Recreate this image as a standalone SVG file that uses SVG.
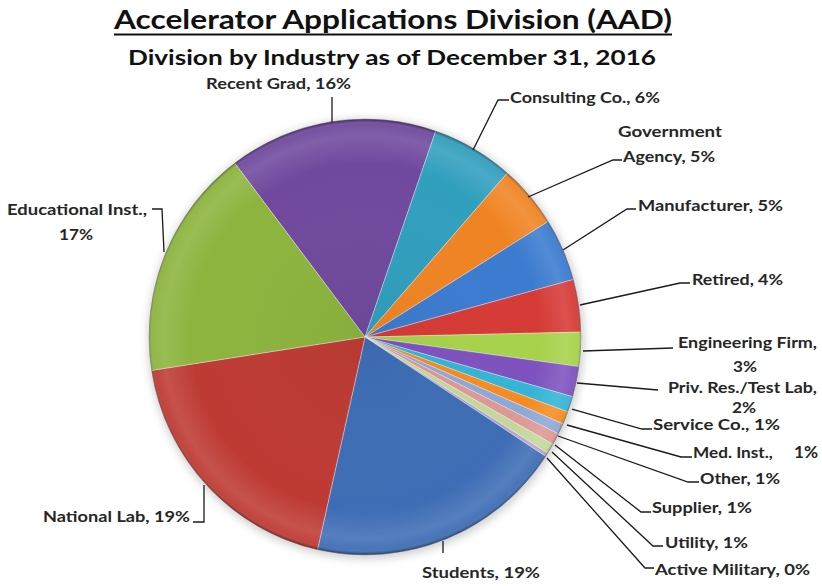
<svg xmlns="http://www.w3.org/2000/svg" width="822" height="586" viewBox="0 0 822 586">
<style>
.t{font-family:Lato,"Liberation Sans",Arial,sans-serif;font-weight:bold;fill:#111}
.lbl{font-family:Lato,"Liberation Sans",Arial,sans-serif;font-weight:bold;font-size:15px;fill:#262626}
.sl{stroke:#ffffff;stroke-opacity:0.45;stroke-width:0.8}
.ld{fill:none;stroke:#1a1a1a;stroke-width:1.3}
</style>
<defs>
<radialGradient id="shade" cx="365" cy="337" r="217" gradientUnits="userSpaceOnUse">
<stop offset="0" stop-color="#000" stop-opacity="0.04"/>
<stop offset="0.8" stop-color="#fff" stop-opacity="0"/>
<stop offset="0.93" stop-color="#fff" stop-opacity="0.12"/>
<stop offset="0.98" stop-color="#fff" stop-opacity="0.05"/>
<stop offset="1" stop-color="#000" stop-opacity="0.3"/>
</radialGradient>
<filter id="blur" x="-20%" y="-20%" width="140%" height="140%">
<feGaussianBlur stdDeviation="4"/>
</filter>
</defs>
<rect width="822" height="586" fill="#ffffff"/>
<g id="title">
<text class="t" x="114" y="29" font-size="27" textLength="558" lengthAdjust="spacingAndGlyphs">Accelerator Applications Division (AAD)</text>
<line x1="114" y1="34.5" x2="672" y2="34.5" stroke="#111" stroke-width="2"/>
<text class="t" x="128" y="65" font-size="20.5" textLength="528" lengthAdjust="spacingAndGlyphs">Division by Industry as of December 31, 2016</text>
</g>
<ellipse cx="366" cy="339" rx="218" ry="220" fill="#777" opacity="0.35" filter="url(#blur)"/>
<g id="slice-recent-grad"><path class="sl" fill="#70499E" d="M365 337 L234.7 163.1 A216 218 0 0 1 435.7 131.0 Z"/>
<text class="lbl" x="206" y="89" textLength="145" lengthAdjust="spacingAndGlyphs">Recent Grad, 16%</text></g>
<g id="slice-consulting"><path class="sl" fill="#319FBE" d="M365 337 L435.7 131.0 A216 218 0 0 1 507.3 173.0 Z"/>
<text class="lbl" x="510" y="103" textLength="150" lengthAdjust="spacingAndGlyphs">Consulting Co., 6%</text></g>
<g id="slice-government"><path class="sl" fill="#F08424" d="M365 337 L507.3 173.0 A216 218 0 0 1 548.2 221.5 Z"/>
<text class="lbl" x="618" y="137" textLength="104" lengthAdjust="spacingAndGlyphs">Government</text>
<text class="lbl" x="623" y="162" textLength="92" lengthAdjust="spacingAndGlyphs">Agency, 5%</text></g>
<g id="slice-manufacturer"><path class="sl" fill="#3B7BD0" d="M365 337 L548.2 221.5 A216 218 0 0 1 573.4 279.5 Z"/>
<text class="lbl" x="638" y="211" textLength="145" lengthAdjust="spacingAndGlyphs">Manufacturer, 5%</text></g>
<g id="slice-retired"><path class="sl" fill="#D63A36" d="M365 337 L573.4 279.5 A216 218 0 0 1 580.9 332.1 Z"/>
<text class="lbl" x="692" y="285" textLength="91" lengthAdjust="spacingAndGlyphs">Retired, 4%</text></g>
<g id="slice-engineering"><path class="sl" fill="#A7D24A" d="M365 337 L580.9 332.1 A216 218 0 0 1 579.0 366.6 Z"/>
<text class="lbl" x="678" y="348" textLength="139" lengthAdjust="spacingAndGlyphs">Engineering Firm,</text>
<text class="lbl" x="733" y="372" textLength="24" lengthAdjust="spacingAndGlyphs">3%</text></g>
<g id="slice-priv-res"><path class="sl" fill="#7E52BE" d="M365 337 L579.0 366.6 A216 218 0 0 1 572.7 396.7 Z"/>
<text class="lbl" x="668" y="393" textLength="149" lengthAdjust="spacingAndGlyphs">Priv. Res./Test Lab,</text>
<text class="lbl" x="732" y="413" textLength="24" lengthAdjust="spacingAndGlyphs">2%</text></g>
<g id="slice-service"><path class="sl" fill="#34B4D6" d="M365 337 L572.7 396.7 A216 218 0 0 1 567.8 411.9 Z"/>
<text class="lbl" x="653" y="430" textLength="127" lengthAdjust="spacingAndGlyphs">Service Co., 1%</text></g>
<g id="slice-med"><path class="sl" fill="#F58B22" d="M365 337 L567.8 411.9 A216 218 0 0 1 563.1 423.9 Z"/>
<text class="lbl" x="693" y="458"><tspan textLength="84" lengthAdjust="spacingAndGlyphs">Med. Inst., </tspan><tspan x="794" font-size="17" textLength="24" lengthAdjust="spacingAndGlyphs">1%</tspan></text></g>
<g id="slice-other"><path class="sl" fill="#8EA8D6" d="M365 337 L563.1 423.9 A216 218 0 0 1 558.5 433.9 Z"/>
<text class="lbl" x="700" y="484" textLength="80" lengthAdjust="spacingAndGlyphs">Other, 1%</text></g>
<g id="slice-supplier"><path class="sl" fill="#DC9894" d="M365 337 L558.5 433.9 A216 218 0 0 1 553.0 444.3 Z"/>
<text class="lbl" x="652" y="513" textLength="100" lengthAdjust="spacingAndGlyphs">Supplier, 1%</text></g>
<g id="slice-utility"><path class="sl" fill="#C4D79A" d="M365 337 L553.0 444.3 A216 218 0 0 1 547.8 453.2 Z"/>
<text class="lbl" x="665" y="548" textLength="83" lengthAdjust="spacingAndGlyphs">Utility, 1%</text></g>
<g id="slice-military"><path class="sl" fill="#B4A3CA" d="M365 337 L547.8 453.2 A216 218 0 0 1 545.7 456.4 Z"/>
<text class="lbl" x="655" y="575" textLength="155" lengthAdjust="spacingAndGlyphs">Active Military, 0%</text></g>
<g id="slice-students"><path class="sl" fill="#3E6DB5" d="M365 337 L545.7 456.4 A216 218 0 0 1 317.5 549.7 Z"/>
<text class="lbl" x="422" y="578" textLength="118" lengthAdjust="spacingAndGlyphs">Students, 19%</text></g>
<g id="slice-national-lab"><path class="sl" fill="#BE3B34" d="M365 337 L317.5 549.7 A216 218 0 0 1 151.5 370.4 Z"/>
<text class="lbl" x="43" y="522" textLength="147" lengthAdjust="spacingAndGlyphs">National Lab, 19%</text></g>
<g id="slice-educational"><path class="sl" fill="#8CB43E" d="M365 337 L151.5 370.4 A216 218 0 0 1 234.7 163.1 Z"/>
<text class="lbl" x="7" y="215" textLength="140" lengthAdjust="spacingAndGlyphs">Educational Inst.,</text>
<text class="lbl" x="59" y="240" textLength="34" lengthAdjust="spacingAndGlyphs">17%</text></g>
<ellipse cx="365" cy="337" rx="216" ry="218" fill="url(#shade)" stroke="#333" stroke-opacity="0.35" stroke-width="0.8"/>
<g id="leaders">
<polyline class="ld" points="332,97 332,122"/>
<polyline class="ld" points="509,100 498,100 473,150"/>
<polyline class="ld" points="622,160 613,160 528,197"/>
<polyline class="ld" points="636,209 627,209 563,250"/>
<polyline class="ld" points="690,283 680,283 580,305"/>
<polyline class="ld" points="583,351 673,348"/>
<polyline class="ld" points="577,383 658,390"/>
<polyline class="ld" points="572,409 642,429 652,429"/>
<polyline class="ld" points="567,425 681,457 692,457"/>
<polyline class="ld" points="558,436 688,482 699,482"/>
<polyline class="ld" points="555,445 641,512 651,512"/>
<polyline class="ld" points="552,452 653,546 663,546"/>
<polyline class="ld" points="547,458 645,568 654,568"/>
<polyline class="ld" points="443,541 443,553"/>
<polyline class="ld" points="204,485 204,522 193,522"/>
<polyline class="ld" points="164,252 162,209 152,209"/>
</g>
</svg>
